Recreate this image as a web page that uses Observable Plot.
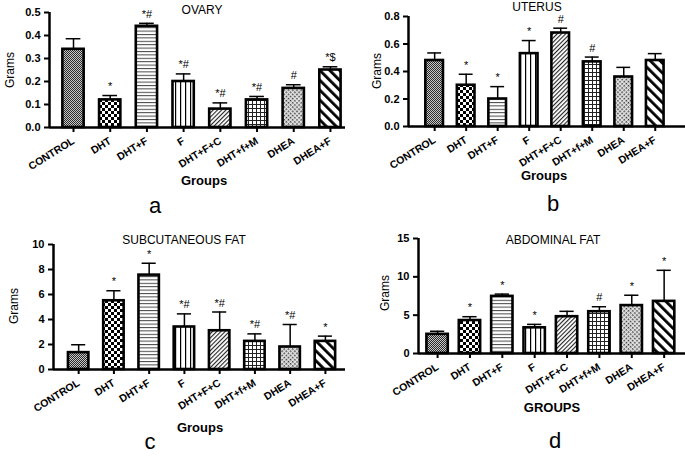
<!DOCTYPE html>
<html><head><meta charset="utf-8">
<script src="https://cdn.jsdelivr.net/npm/d3@7"></script>
<script src="https://cdn.jsdelivr.net/npm/@observablehq/plot@0.6"></script>
<style>
body{margin:0;background:#fff;}
#fig{position:relative;width:685px;height:456px;overflow:hidden;font-family:"Liberation Sans",Arial,sans-serif;color:#000;}
.panel{position:absolute;}
.t{position:absolute;transform:translate(-50%,-50%);white-space:nowrap;line-height:1;}
.title{font-size:12px;}
.xlab{font-size:13px;font-weight:bold;}
.ylab{font-size:12px;transform:translate(-50%,-50%) rotate(-90deg);}
.letter{font-size:22px;}
</style></head><body>
<svg width="0" height="0" style="position:absolute">
<defs>
<pattern id="pat0" patternUnits="userSpaceOnUse" width="2" height="2">
 <rect width="2" height="2" fill="#c8c8c8"/><rect width="1" height="1" fill="#2a2a2a"/><rect x="1" y="1" width="1" height="1" fill="#2a2a2a"/>
</pattern>
<pattern id="pat1" patternUnits="userSpaceOnUse" width="6" height="6">
 <rect width="6" height="6" fill="#fff"/><rect width="3" height="3" fill="#000"/><rect x="3" y="3" width="3" height="3" fill="#000"/>
</pattern>
<pattern id="pat2" patternUnits="userSpaceOnUse" width="4" height="3.4">
 <rect width="4" height="3.4" fill="#fff"/><rect width="4" height="1" fill="#444"/>
</pattern>
<pattern id="pat3" patternUnits="userSpaceOnUse" width="5" height="5">
 <rect width="5" height="5" fill="#fff"/><rect width="1.2" height="5" fill="#000"/>
</pattern>
<pattern id="pat4" patternUnits="userSpaceOnUse" width="3" height="3" patternTransform="rotate(45)">
 <rect width="3" height="3" fill="#fff"/><rect width="1.1" height="3" fill="#222"/>
</pattern>
<pattern id="pat5" patternUnits="userSpaceOnUse" width="4" height="4">
 <rect width="4" height="4" fill="#fff"/><rect width="4" height="1" fill="#222"/><rect width="1" height="4" fill="#222"/>
</pattern>
<pattern id="pat6" patternUnits="userSpaceOnUse" width="3" height="3" patternTransform="rotate(45)">
 <rect width="3" height="3" fill="#e4e4e4"/><rect width="1.5" height="1.5" fill="#333"/>
</pattern>
<pattern id="pat7" patternUnits="userSpaceOnUse" width="7" height="7" patternTransform="rotate(-45)">
 <rect width="7" height="7" fill="#fff"/><rect width="2.8" height="7" fill="#000"/>
</pattern>
</defs></svg>
<div id="fig"></div>
<script>
// ---- data ----
const groups = ["CONTROL","DHT","DHT+F","F","DHT+F+C","DHT+f+M","DHEA","DHEA+F"];

const ovaryMean = [0.34, 0.12, 0.44, 0.20, 0.08, 0.12, 0.17, 0.25];
const ovarySem  = [0.046, 0.019, 0.013, 0.033, 0.027, 0.015, 0.016, 0.014];
const ovaryMarks = ["", "*", "*#", "*#", "*#", "*#", "#", "*$"];
const ovaryTicks = [0, 0.1, 0.2, 0.3, 0.4, 0.5];

const uterusMean = [0.48, 0.30, 0.20, 0.53, 0.68, 0.47, 0.36, 0.48];
const uterusSem  = [0.055, 0.08, 0.09, 0.095, 0.035, 0.035, 0.07, 0.05];
const uterusMarks = ["", "*", "*", "*", "#", "#", "", ""];
const uterusTicks = [0, 0.2, 0.4, 0.6, 0.8];

const subMean = [1.35, 5.5, 7.55, 3.4, 3.1, 2.25, 1.8, 2.25];
const subSem  = [0.63, 0.8, 0.95, 1.05, 1.5, 0.6, 1.8, 0.42];
const subMarks = ["", "*", "*", "*#", "*#", "*#", "*#", "*"];
const subTicks = [0, 2, 4, 6, 8, 10];

const abdMean = [2.5, 4.3, 7.45, 3.35, 4.8, 5.45, 6.25, 6.8];
const abdSem  = [0.4, 0.5, 0.3, 0.45, 0.7, 0.65, 1.35, 4.05];
const abdMarks = ["", "*", "*", "*", "", "#", "*", "*"];
const abdTicks = [0, 5, 10, 15];

const titles = ["OVARY", "UTERUS", "SUBCUTANEOUS FAT", "ABDOMINAL FAT"];
const xLabels = ["Groups", "Groups", "Groups", "GROUPS"];
const yLabel = "Grams";
const letters = ["a", "b", "c", "d"];

// ---- layout ----
const panels = [
  {mean: ovaryMean, sem: ovarySem, marks: ovaryMarks, ticks: ovaryTicks, fmt: d3.format(".1f"),
   left: 0, top: 0, h: 200, mt: 12, mb: 73, ml: 49, xd: [-0.654, 7.41], hw: 0.29, cap: 0.2,
   title: [202, 10], xlab: [204, 180], ylab: [10, 70], letter: [155, 206]},
  {mean: uterusMean, sem: uterusSem, marks: uterusMarks, ticks: uterusTicks, fmt: d3.format(".1f"),
   left: 340, top: 0, h: 200, mt: 16, mb: 74, ml: 68, xd: [-0.83, 7.96], hw: 0.28, cap: 0.22,
   title: [537, 7], xlab: [544, 175], ylab: [377, 71], letter: [553, 204]},
  {mean: subMean, sem: subSem, marks: subMarks, ticks: subTicks, fmt: d3.format("d"),
   left: 0, top: 225, h: 231, mt: 19, mb: 87, ml: 53, xd: [-0.714, 7.57], hw: 0.29, cap: 0.2,
   title: [184, 240], xlab: [200, 427], ylab: [14, 306], letter: [150, 442]},
  {mean: abdMean, sem: abdSem, marks: abdMarks, ticks: abdTicks, fmt: d3.format("d"),
   left: 340, top: 225, h: 231, mt: 13, mb: 103, ml: 78, xd: [-0.59, 7.66], hw: 0.33, cap: 0.22,
   title: [553, 240], xlab: [552, 407], ylab: [385, 293], letter: [555, 441]}
];

const fig = document.getElementById("fig");

function addText(cls, txt, pos) {
  const el = document.createElement("div");
  el.className = "t " + cls;
  el.textContent = txt;
  el.style.left = pos[0] + "px";
  el.style.top = pos[1] + "px";
  fig.appendChild(el);
}

panels.forEach((p, k) => {
  const data = groups.map((g, i) => ({i, g, v: p.mean[i], e: p.mean[i] + p.sem[i], m: p.marks[i]}));
  const ymax = p.ticks[p.ticks.length - 1];
  const chart = Plot.plot({
    width: 345, height: p.h,
    marginTop: p.mt, marginBottom: p.mb, marginLeft: p.ml, marginRight: 0,
    x: {domain: p.xd, axis: null},
    y: {domain: [0, ymax], axis: null},
    color: {type: "identity"},
    style: {fontFamily: "'Liberation Sans', Arial, sans-serif", background: "transparent", overflow: "visible"},
    marks: [
      Plot.ruleX(data, {x: "i", y1: "v", y2: "e", strokeWidth: 1.5}),
      Plot.ruleY(data, {x1: d => d.i - p.cap, x2: d => d.i + p.cap, y: "e", strokeWidth: 1.5}),
      Plot.rectY(data, {x1: d => d.i - p.hw, x2: d => d.i + p.hw, y1: 0, y2: "v",
        fill: d => `url(#pat${d.i})`, stroke: "black", strokeWidth: 2.6}),
      Plot.text(data, {x: "i", y: "e", text: "m", dy: -9, fontSize: 11, fill: "black"}),
      Plot.ruleX([p.xd[0]], {y1: 0, y2: ymax, strokeWidth: 2.5}),
      Plot.ruleY([0], {strokeWidth: 2.5}),
      Plot.axisY({ticks: p.ticks, tickFormat: p.fmt, tickSize: 5, strokeWidth: 2,
        fontSize: 11, fontWeight: "bold", label: null}),
      Plot.axisX({ticks: d3.range(groups.length), tickFormat: i => groups[i], tickSize: 5,
        strokeWidth: 2, tickRotate: -32, fontSize: 10.5, fontWeight: "bold", label: null})
    ]
  });
  chart.classList.add("panel");
  chart.style.left = p.left + "px";
  chart.style.top = p.top + "px";
  fig.appendChild(chart);
  addText("title", titles[k], p.title);
  addText("xlab", xLabels[k], p.xlab);
  addText("ylab", yLabel, p.ylab);
  addText("letter", letters[k], p.letter);
});
</script>
</body></html>
